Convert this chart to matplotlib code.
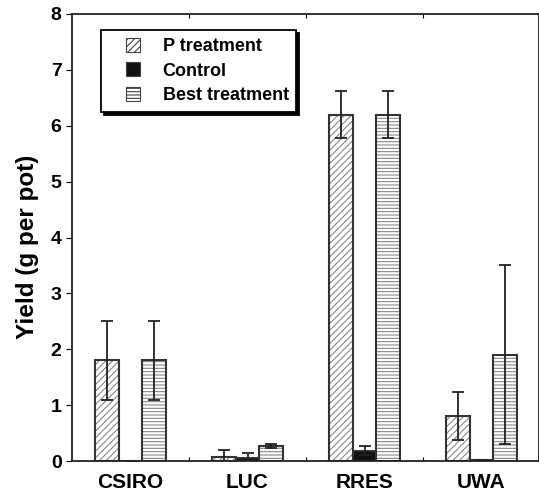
import numpy as np
import matplotlib
matplotlib.use('Agg')
import matplotlib.pyplot as plt
from matplotlib.legend_handler import HandlerPatch

plt.rcParams['font.family'] = ['Liberation Sans', 'DejaVu Sans']
plt.rcParams['font.weight'] = 'bold'
plt.rcParams['hatch.linewidth'] = 0.8

sites = ['CSIRO', 'LUC', 'RRES', 'UWA']
p_treat = [1.8, 0.08, 6.2, 0.8]
p_err = [0.7, 0.12, 0.42, 0.43]
control = [0.0, 0.06, 0.18, 0.02]
control_err = [0.0, 0.09, 0.08, 0.0]
best = [1.8, 0.27, 6.2, 1.9]
best_err = [0.7, 0.03, 0.42, 1.6]

fig = plt.figure(figsize=(5.39, 4.97), dpi=100)
ax = fig.add_axes([72/539, 36/497, 467/539, 447/497])

x = np.arange(len(sites)) + 0.5
w = 0.2
series = [
    (p_treat, p_err, 'P treatment', 'white', '/////'),
    (control, control_err, 'Control', '#111111', None),
    (best, best_err, 'Best treatment', 'white', '-----'),
]
handles = []
for k, (vals, errs, lab, fc, hatch) in enumerate(series):
    pos = x + (k - 1) * w
    ax.bar(pos, vals, w, color=fc, edgecolor='#888888', hatch=hatch, linewidth=0)
    ax.bar(pos, vals, w, fill=False, edgecolor='#333333', linewidth=1.5)
    ax.errorbar(pos, vals, yerr=errs, fmt='none', ecolor='#222222',
                elinewidth=1.3, capsize=4, capthick=1.3)
    h = plt.Rectangle((0, 0), 1, 1, facecolor=fc, edgecolor='#444444',
                      hatch=hatch, linewidth=0.8, label=lab)
    handles.append(h)


# legend swatch: small square at the right end of the handle box
def small_box(legend, orig_handle, xdescent, ydescent, width, height, fontsize):
    s = 14 * 72 / 100
    return plt.Rectangle((-xdescent + width - s, -ydescent + (height - s) / 2), s, s)


ax.set_xlim(0, 467/117)
ax.set_ylim(0, 8)
ax.set_yticks(range(9))
ax.set_xticks([1, 2, 3])
ax.set_xticklabels([])
ax.set_xticks(x, minor=True)
ax.set_xticklabels(sites, minor=True, fontsize=15)
ax.tick_params(axis='x', which='major', direction='in', top=True, length=3)
ax.tick_params(axis='x', which='minor', length=0, pad=9)
ax.tick_params(axis='y', direction='out', length=4, labelsize=14)
ax.set_ylabel('Yield (g per pot)', fontsize=17.5, fontweight='bold')
ax.yaxis.set_label_coords(-0.071, 0.48)
for s in ax.spines.values():
    s.set_linewidth(1.3)
    s.set_color('#222222')

leg = ax.legend(handles=handles, loc='upper left', bbox_to_anchor=(0.062, 0.964),
                borderaxespad=0, fontsize=13, frameon=True, fancybox=False,
                edgecolor='black', handlelength=1.75, handleheight=0.8,
                labelspacing=0.42, handletextpad=1.25, borderpad=0.42,
                handler_map={plt.Rectangle: HandlerPatch(patch_func=small_box)},
                shadow={'color': 'black', 'alpha': 1})
leg.get_frame().set_linewidth(1.3)

fig.savefig('out.png', dpi=100)
